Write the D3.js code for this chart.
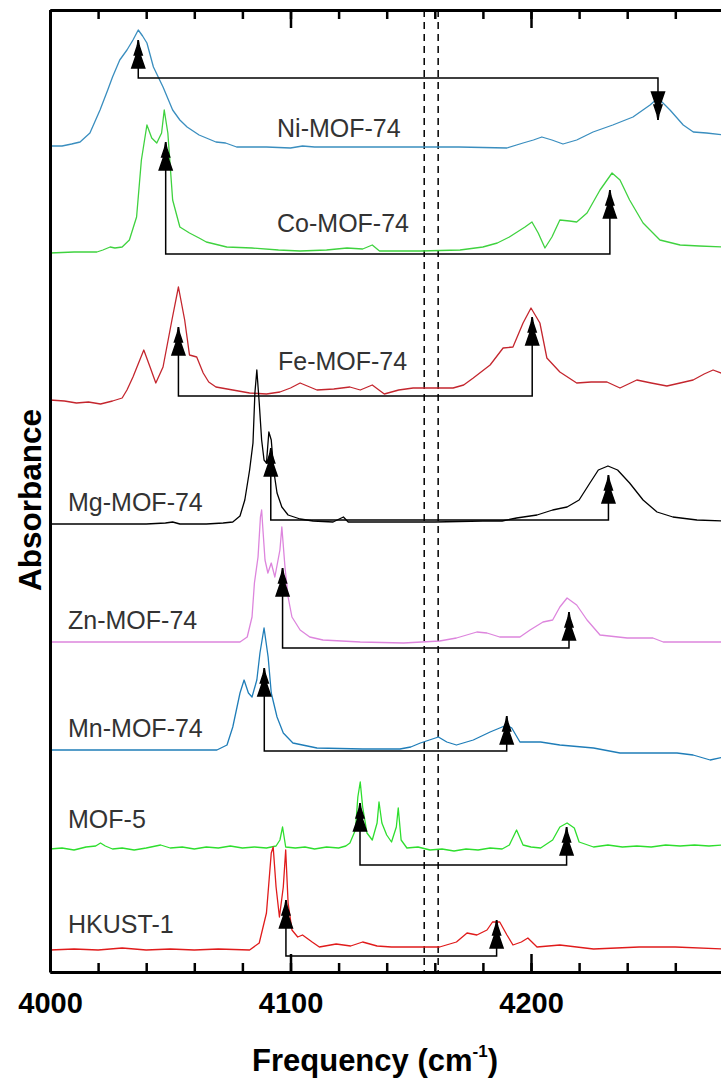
<!DOCTYPE html>
<html>
<head>
<meta charset="utf-8">
<script src="https://cdn.jsdelivr.net/npm/d3@7"></script>
<style>
  body { margin: 0; background: #fff; }
  svg { display: block; font-family: "Liberation Sans", Arial, sans-serif; }
  .spectrum { fill: none; stroke-width: 1.3; stroke-linejoin: round; }
  .bracket { fill: none; stroke: #000; stroke-width: 1.5; }
  .label { font-size: 25px; fill: #333; }
</style>
</head>
<body>
<script>
// sample names, colours and vertical offsets (absorbance, arbitrary units)
const names = ["Ni-MOF-74", "Co-MOF-74", "Fe-MOF-74", "Mg-MOF-74", "Zn-MOF-74", "Mn-MOF-74", "MOF-5", "HKUST-1"];
const colors = ["#3a8ebf", "#3fd23f", "#c4262e", "#000000", "#dd85dd", "#1f7db8", "#2ede2e", "#e01b1b"];
const offsets = [8.26, 7.19, 5.72, 4.48, 3.30, 2.22, 1.23, 0.22];

// spectra: [frequency (cm-1), absorbance above own baseline]
const niMOF74 = [[4000,0],[4005,0],[4009,0.02],[4012.5,0.04],[4016.6,0.13],[4020.8,0.36],[4024,0.56],[4026,0.69],[4029,0.86],[4032,0.96],[4034.5,1.06],[4036.7,1.16],[4038.5,1.10],[4040.3,1.03],[4043,0.79],[4047,0.59],[4051,0.36],[4054,0.26],[4057,0.19],[4062,0.11],[4066,0.07],[4069,0.04],[4073,0.03],[4077.6,-0.01],[4090,-0.01],[4100,-0.02],[4105,0],[4110,-0.01],[4130,-0.01],[4150,-0.01],[4170,-0.01],[4190,-0.02],[4196.7,0.03],[4201,0.06],[4204.5,0.09],[4208.7,0.06],[4213.3,0.02],[4219,0.06],[4225.8,0.14],[4234,0.21],[4242.4,0.29],[4249.5,0.41],[4252.8,0.48],[4257.8,0.36],[4263.3,0.21],[4267.5,0.14],[4273,0.13],[4280,0.11]];
const coMOF74 = [[4000,0],[4010,0.01],[4019.5,0.01],[4022,0.03],[4025,0.06],[4027,0.05],[4030,0.06],[4033,0.13],[4036,0.36],[4038,0.93],[4040.3,1.28],[4042.3,1.15],[4044.4,1.10],[4046.4,1.20],[4047.5,1.43],[4049,1.20],[4051,0.53],[4054,0.26],[4058,0.20],[4062,0.15],[4065,0.11],[4073.5,0.06],[4084,0.05],[4095,0.03],[4104,0.02],[4115,0.03],[4123.5,0.05],[4130,0.04],[4134,0.08],[4137,0.02],[4154,0.02],[4170.5,0.03],[4180,0.06],[4186,0.10],[4191,0.16],[4197.5,0.26],[4200.4,0.31],[4203,0.20],[4205.8,0.05],[4208.7,0.16],[4212,0.33],[4216,0.32],[4219,0.31],[4223.3,0.40],[4228.7,0.63],[4233.7,0.80],[4237,0.73],[4241,0.53],[4246.6,0.30],[4253.6,0.13],[4262,0.08],[4270,0.07],[4280,0.06]];
const feMOF74 = [[4000,0],[4006,-0.01],[4011,-0.03],[4016,-0.02],[4021,-0.04],[4026,-0.01],[4030,0.02],[4032,0.10],[4034.5,0.23],[4039,0.50],[4041.6,0.33],[4044,0.17],[4047,0.33],[4050.7,0.80],[4053.4,1.13],[4056,0.80],[4058,0.45],[4061,0.43],[4063.7,0.27],[4066,0.18],[4069,0.13],[4076,0.10],[4083,0.07],[4090,0.06],[4095.6,0.08],[4100,0.12],[4104,0.17],[4111,0.10],[4118,0.11],[4124.7,0.13],[4129,0.10],[4134,0.15],[4139,0.06],[4145,0.10],[4151,0.12],[4160,0.12],[4167.6,0.12],[4172,0.15],[4176,0.22],[4183,0.35],[4188.4,0.52],[4192.5,0.53],[4196.7,0.77],[4200,0.92],[4203.7,0.77],[4206.6,0.42],[4212,0.28],[4219,0.17],[4225,0.18],[4231.6,0.18],[4237,0.12],[4244,0.20],[4250,0.17],[4256.5,0.14],[4262,0.17],[4267.4,0.20],[4272,0.26],[4275.7,0.30],[4280,0.26]];
const mgMOF74 = [[4000,0],[4020,0],[4040,0],[4048,0.01],[4051,0.02],[4054,0],[4065,0],[4072,0.01],[4076,0.02],[4079,0.08],[4081,0.24],[4083,0.54],[4084.4,0.81],[4085.2,1.31],[4086,1.54],[4087,1.21],[4088,0.84],[4089,0.64],[4090,0.61],[4091,0.92],[4092,0.84],[4093,0.54],[4094.4,0.31],[4096.4,0.17],[4099,0.09],[4104,0.05],[4109.4,0.03],[4117.7,0.02],[4122,0.07],[4124,0.02],[4140,0.02],[4160,0.02],[4180,0.03],[4188,0.03],[4194,0.06],[4202.5,0.09],[4209,0.14],[4215,0.17],[4220,0.24],[4224.5,0.41],[4228,0.54],[4232,0.58],[4236,0.54],[4241,0.41],[4246.6,0.24],[4252.4,0.12],[4259,0.07],[4269,0.04],[4280,0.03]];
const znMOF74 = [[4000,0],[4040,0],[4079,0],[4082,0.05],[4084,0.25],[4085,0.59],[4086.5,0.85],[4087.5,1.25],[4088,1.32],[4088.6,1.10],[4089.4,0.82],[4090.6,0.69],[4092,0.79],[4093.5,0.65],[4095.6,0.92],[4096.4,1.15],[4097.7,0.75],[4099,0.45],[4100.6,0.25],[4104,0.12],[4108,0.05],[4113.5,0.02],[4129,0],[4147,-0.01],[4162,0.01],[4169,0.04],[4177.5,0.10],[4181.7,0.09],[4187,0.05],[4195.4,0.05],[4199.6,0.12],[4205,0.20],[4209,0.22],[4212,0.35],[4215,0.44],[4219,0.37],[4223.3,0.22],[4228.7,0.07],[4240,0.04],[4250.7,0.04],[4255,0],[4280,0]];
const mnMOF74 = [[4000,0],[4069.4,0],[4073.6,0.05],[4076,0.23],[4079,0.57],[4080.7,0.70],[4082.5,0.57],[4084,0.53],[4086,0.70],[4087.3,0.97],[4089,1.22],[4090.7,0.93],[4092,0.57],[4094.4,0.33],[4097,0.17],[4101,0.07],[4111,0.02],[4130,0.01],[4145.5,0.01],[4150,0.03],[4154,0.07],[4161.5,0.13],[4165,0.08],[4169,0.05],[4176,0.10],[4183,0.18],[4190,0.25],[4192,0.22],[4195.4,0.08],[4204,0.08],[4212,0.05],[4226,0.02],[4237,-0.03],[4260.7,-0.03],[4267.4,-0.05],[4274.5,-0.10],[4280,-0.07]];
const mof5 = [[4000,0],[4005,0.01],[4010,-0.01],[4015,0.02],[4019,0.03],[4021,0.06],[4023,0.03],[4026,0],[4030,0.01],[4035,-0.01],[4040,0.01],[4046,0.04],[4050,0.01],[4055,0.02],[4060,0],[4065,0.02],[4070,0.01],[4075,0.03],[4080,0.01],[4085,0.02],[4090,0.01],[4094,0.03],[4095.6,0.09],[4096.7,0.22],[4098,0.02],[4102,0.01],[4106,0.02],[4110,0],[4115,0.02],[4120,0.01],[4123,0.03],[4124.7,0.06],[4127,0.19],[4128,0.52],[4129,0.67],[4130,0.42],[4131.8,0.16],[4134,0.09],[4136,0.26],[4136.8,0.47],[4138,0.26],[4140,0.14],[4142,0.07],[4144,0.22],[4144.8,0.41],[4146,0.09],[4148.4,0.01],[4153,0.02],[4158,-0.01],[4163,0],[4168,-0.02],[4173,0],[4178,-0.01],[4183,0.01],[4188,0],[4191,0.04],[4194,0.19],[4196.7,0.04],[4200,0.02],[4204,0.01],[4209,0.09],[4212,0.22],[4215,0.26],[4218,0.21],[4220,0.07],[4226,0.02],[4232,0.04],[4238,0.02],[4244,0.03],[4250,0.02],[4256,0.04],[4262,0.03],[4268,0.04],[4274,0.03],[4280,0.04]];
const hkust1 = [[4000,0],[4010,0.01],[4020,0],[4030,0.02],[4040,0],[4050,0.01],[4060,0],[4070,0.01],[4083,0],[4087,0.07],[4090,0.37],[4092,0.97],[4092.8,1.03],[4094,0.63],[4095.4,0.33],[4097,0.63],[4098,1.00],[4099,0.47],[4100.6,0.20],[4103,0.13],[4105,0.15],[4109,0.08],[4112,0.03],[4119,0.06],[4125,0.04],[4130,0.08],[4136,0.04],[4142,0.03],[4150,0.03],[4162,0.03],[4169,0.08],[4173.4,0.17],[4177.5,0.15],[4181.7,0.20],[4184,0.28],[4187,0.28],[4190,0.15],[4192.5,0.05],[4196,0.08],[4198.7,0.12],[4202.5,0.03],[4212,0.05],[4226,0.01],[4245,0.03],[4260,0.03],[4280,0.01]];
const spectra = [niMOF74, coMOF74, feMOF74, mgMOF74, znMOF74, mnMOF74, mof5, hkust1];

// label anchors (frequency, absolute absorbance of the baseline of the text)
const labelFreq = [4094.4, 4094.4, 4094.8, 4007.5, 4007.5, 4007.5, 4007.5, 4007.5];
const labelAbs = [8.35, 7.40, 6.02, 4.61, 3.43, 2.35, 1.44, 0.39];

// bracket annotations (peak pairs), absolute absorbance
const arrowLeft = [4036.7, 4048.1, 4053.4, 4091.8, 4096.7, 4089.1, 4128.9, 4098.1];
const arrowRight = [4252.8, 4232.8, 4200.5, 4232.2, 4215.8, 4189.9, 4214.8, 4185.7];
const arrowLeftTip = [9.32, 8.30, 6.45, 5.24, 4.04, 3.04, 1.69, 0.72];
const arrowRightTip = [8.52, 7.82, 6.55, 4.97, 3.60, 2.56, 1.45, 0.52];
const arrowBar = [8.94, 7.18, 5.76, 4.52, 3.24, 2.21, 1.07, 0.16];

// free H2 reference lines
const gasLines = [4155.6, 4161.4];

const xMajor = [4000, 4100, 4200, 4300];
const xLabelled = [4000, 4100, 4200];
const xMinor = d3.range(4000, 4301, 20);

const W = 721, H = 1079;
const svg = d3.select("body").append("svg").attr("width", W).attr("height", H);

const x = d3.scaleLinear().domain([4000, 4300]).range([50, 771.5]);
const y = d3.scaleLinear().domain([0, 9.62]).range([972, 10]);

// dashed reference lines
svg.selectAll("line.gas")
    .data(gasLines)
    .enter()
    .append("line")
    .attr("class", "gas")
    .attr("x1", d => x(d)).attr("x2", d => x(d))
    .attr("y1", y(9.62)).attr("y2", y(0))
    .attr("stroke", "#000")
    .attr("stroke-width", 1.5)
    .attr("stroke-dasharray", "7,5");

// spectra
const line = d3.line()
    .x(d => x(d[0]))
    .y(d => y(d[1]));

svg.selectAll("path.spectrum")
    .data(spectra)
    .enter()
    .append("path")
    .attr("class", "spectrum")
    .attr("stroke", (d, i) => colors[i])
    .attr("d", (d, i) => line(d.map(p => [p[0], p[1] + offsets[i]])));

// arrowhead pointing up with tip at (0,0); flipped for downward arrows
function head(px, py, dir) {
    const pts = [[0,0],[1,6],[4,15],[2,15],[6.5,28],[-6.5,28],[-2,15],[-4,15],[-1,6]];
    return "M" + pts.map(p => (px + p[0]) + "," + (py + dir * p[1])).join("L") + "Z";
}

const brackets = svg.selectAll("g.bracket")
    .data(names)
    .enter()
    .append("g")
    .attr("class", "bracket");

brackets.append("path")
    .attr("d", (d, i) =>
        "M" + x(arrowLeft[i]) + "," + y(arrowLeftTip[i]) +
        "V" + y(arrowBar[i]) +
        "H" + x(arrowRight[i]) +
        "V" + y(arrowRightTip[i]));

brackets.append("path")
    .attr("fill", "#000")
    .attr("d", (d, i) => head(x(arrowLeft[i]), y(arrowLeftTip[i]), arrowLeftTip[i] > arrowBar[i] ? 1 : -1));

brackets.append("path")
    .attr("fill", "#000")
    .attr("d", (d, i) => head(x(arrowRight[i]), y(arrowRightTip[i]), arrowRightTip[i] > arrowBar[i] ? 1 : -1));

// sample labels
svg.selectAll("text.label")
    .data(names)
    .enter()
    .append("text")
    .attr("class", "label")
    .attr("x", (d, i) => x(labelFreq[i]))
    .attr("y", (d, i) => y(labelAbs[i]))
    .text(d => d);

// axes: inward ticks on bottom and top, plain left spine
function styleAxis(g) {
    g.select(".domain").attr("stroke-width", 3);
    g.selectAll(".tick line").attr("stroke-width", 2.5);
}

svg.append("g")
    .attr("transform", "translate(0," + y(0) + ")")
    .call(d3.axisBottom(x).tickValues(xMinor).tickSize(-9).tickSizeOuter(0).tickFormat(""))
    .call(styleAxis);

svg.append("g")
    .attr("transform", "translate(0," + y(0) + ")")
    .call(d3.axisBottom(x).tickValues(xMajor).tickSize(-18).tickSizeOuter(0).tickFormat(""))
    .call(styleAxis);

svg.append("g")
    .attr("transform", "translate(0," + y(0) + ")")
    .call(d3.axisBottom(x).tickValues(xLabelled).tickSize(0).tickPadding(20).tickFormat(d3.format("d")))
    .call(g => g.select(".domain").remove())
    .call(g => g.selectAll(".tick text")
        .attr("font-size", 29)
        .attr("font-weight", "bold")
        .attr("fill", "#000")
        .attr("font-family", "'Liberation Sans', Arial, sans-serif"));

svg.append("g")
    .attr("transform", "translate(0," + y(9.62) + ")")
    .call(d3.axisTop(x).tickValues(xMinor).tickSize(-9).tickSizeOuter(0).tickFormat(""))
    .call(styleAxis);

svg.append("g")
    .attr("transform", "translate(0," + y(9.62) + ")")
    .call(d3.axisTop(x).tickValues(xMajor).tickSize(-18).tickSizeOuter(0).tickFormat(""))
    .call(styleAxis);

svg.append("g")
    .attr("transform", "translate(" + x(4000) + ",0)")
    .call(d3.axisLeft(y).tickValues([]).tickSizeOuter(0))
    .call(styleAxis);

// axis titles
const xTitle = svg.append("text")
    .attr("x", 375)
    .attr("y", 1071)
    .attr("text-anchor", "middle")
    .attr("font-size", 31)
    .attr("font-weight", "bold")
    .attr("fill", "#000");
xTitle.append("tspan").text("Frequency (cm");
xTitle.append("tspan").attr("font-size", 17).attr("dy", -14).text("-1");
xTitle.append("tspan").attr("dy", 14).text(")");

svg.append("text")
    .attr("transform", "translate(41,500) rotate(-90)")
    .attr("text-anchor", "middle")
    .attr("font-size", 31.5)
    .attr("font-weight", "bold")
    .attr("fill", "#000")
    .text("Absorbance");
</script>
</body>
</html>
